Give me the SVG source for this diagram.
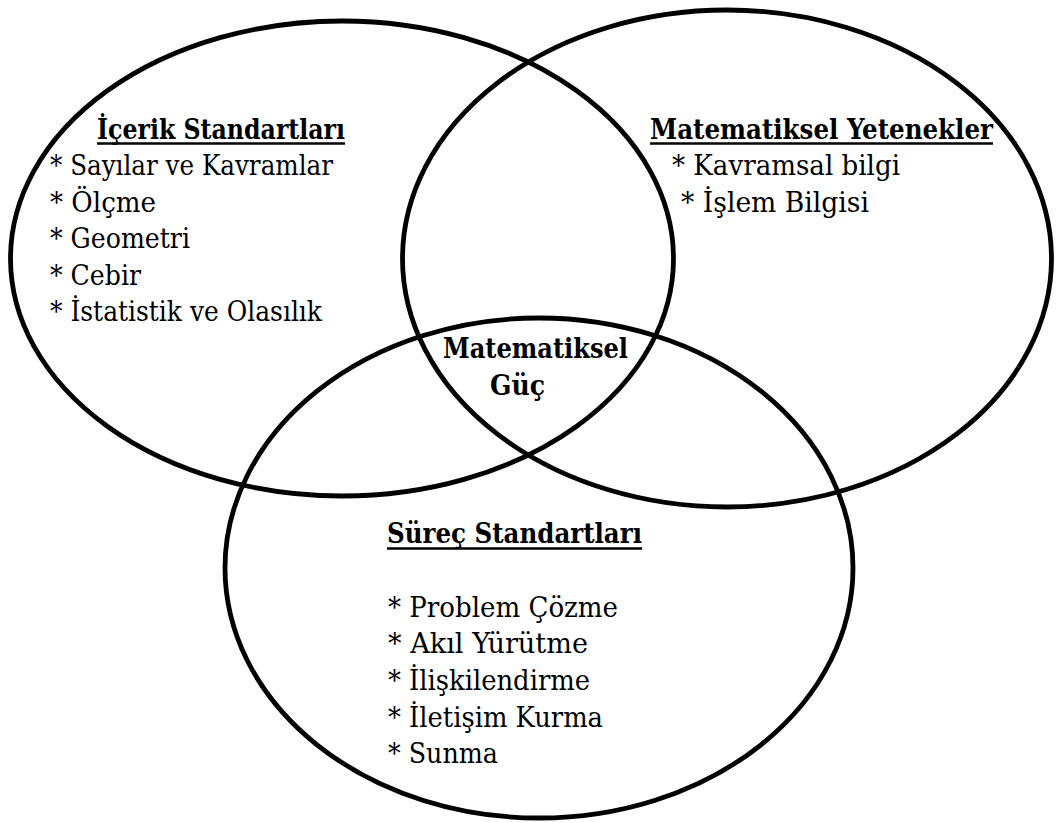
<svg xmlns="http://www.w3.org/2000/svg" width="1056" height="823" viewBox="0 0 1056 823">
  <style>
    .set { fill: none; stroke: #000; stroke-width: 4.8; }
    text { font-family: "DejaVu Serif Condensed", "DejaVu Serif", serif; font-stretch: condensed; font-size: 28px; fill: #000; }
    .head { font-weight: bold; }
    .ul { stroke: #000; stroke-width: 2.6; }
  </style>
  <rect width="1056" height="823" fill="#fff"/>

  <!-- Content standards -->
  <g id="content-standards">
    <ellipse class="set" cx="342" cy="258.5" rx="331.5" ry="237.5"/>
    <text class="head" x="97" y="139" textLength="248" lengthAdjust="spacingAndGlyphs">İçerik Standartları</text>
    <line class="ul" x1="97" y1="143.5" x2="345" y2="143.5"/>
    <text x="50" y="175" textLength="283" lengthAdjust="spacingAndGlyphs">* Sayılar ve Kavramlar</text>
    <text x="50" y="212" textLength="106" lengthAdjust="spacingAndGlyphs">* Ölçme</text>
    <text x="50" y="248" textLength="140" lengthAdjust="spacingAndGlyphs">* Geometri</text>
    <text x="50" y="285" textLength="91" lengthAdjust="spacingAndGlyphs">* Cebir</text>
    <text x="50" y="321" textLength="272" lengthAdjust="spacingAndGlyphs">* İstatistik ve Olasılık</text>
  </g>

  <!-- Mathematical abilities -->
  <g id="math-abilities">
    <ellipse class="set" cx="727" cy="258.5" rx="324.5" ry="248.5"/>
    <text class="head" x="650" y="139" textLength="343" lengthAdjust="spacingAndGlyphs">Matematiksel Yetenekler</text>
    <line class="ul" x1="650" y1="143.5" x2="993" y2="143.5"/>
    <text x="672" y="175" textLength="228" lengthAdjust="spacingAndGlyphs">* Kavramsal bilgi</text>
    <text x="681" y="212" textLength="188" lengthAdjust="spacingAndGlyphs">* İşlem Bilgisi</text>
  </g>

  <!-- Process standards -->
  <g id="process-standards">
    <ellipse class="set" cx="539" cy="568" rx="314" ry="250"/>
    <text class="head" x="387" y="543" textLength="255" lengthAdjust="spacingAndGlyphs">Süreç Standartları</text>
    <line class="ul" x1="387" y1="548.5" x2="642" y2="548.5"/>
    <text x="388" y="617" textLength="230" lengthAdjust="spacingAndGlyphs">* Problem Çözme</text>
    <text x="388" y="653" textLength="200" lengthAdjust="spacingAndGlyphs">* Akıl Yürütme</text>
    <text x="388" y="690" textLength="202" lengthAdjust="spacingAndGlyphs">* İlişkilendirme</text>
    <text x="388" y="727" textLength="215" lengthAdjust="spacingAndGlyphs">* İletişim Kurma</text>
    <text x="388" y="763" textLength="110" lengthAdjust="spacingAndGlyphs">* Sunma</text>
  </g>

  <!-- Shared centre -->
  <g id="math-power">
    <text class="head" x="443" y="358" textLength="185" lengthAdjust="spacingAndGlyphs">Matematiksel</text>
    <text class="head" x="490" y="395" textLength="55" lengthAdjust="spacingAndGlyphs">Güç</text>
  </g>
</svg>
